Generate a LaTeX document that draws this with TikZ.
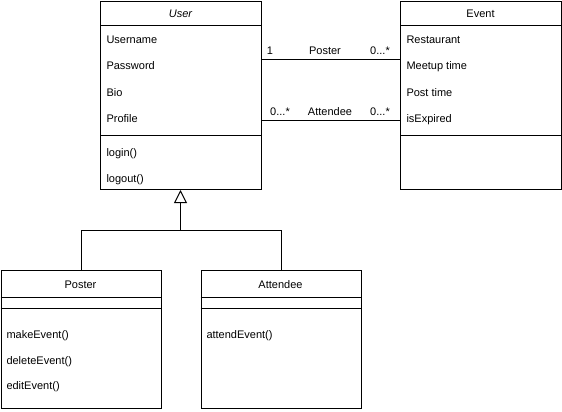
\documentclass[tikz,border=0pt]{standalone}
\usepackage{fontspec}
\setmainfont{Liberation Sans}
\usetikzlibrary{arrows.meta}
\begin{document}
\begin{tikzpicture}[x=1pt,y=-1pt,line width=1pt,
  font=\fontsize{11}{13}\selectfont,
  every node/.append style={text height=8pt,text depth=0pt},
  classbox/.style={draw,rectangle,minimum width=161pt,anchor=north west,inner sep=0pt,text height=,text depth=},
  member/.style={anchor=west,inner sep=0pt},
  mult/.style={inner sep=0pt}]
\useasboundingbox (0,0) rectangle (562,412);

% User class
\node[classbox,minimum height=188pt] (user) at (100,1) {};
\node[font=\fontsize{11}{13}\selectfont\itshape,inner sep=0pt] (userT) at (180.5,14) {User};
\draw (100,26) -- (261,26);
\draw (100,135) -- (261,135);
\node[member] (u1) at (106,40) {Username};
\node[member] (u2) at (106,66) {Password};
\node[member] (u3) at (106,92) {Bio};
\node[member] (u4) at (106,118) {Profile};
\node[member] (u5) at (106,152) {login()};
\node[member] (u6) at (106,178) {logout()};

% Event class
\node[classbox,minimum height=188pt] (event) at (400,1) {};
\node[inner sep=0pt] (eventT) at (480.5,14) {Event};
\draw (400,26) -- (561,26);
\draw (400,135) -- (561,135);
\node[member] (e1) at (406,40) {Restaurant};
\node[member] (e2) at (406,66) {Meetup time};
\node[member] (e3) at (406,92) {Post time};
\node[member] (e4) at (406,118) {isExpired};

% Poster class
\node[classbox,minimum width=160pt,minimum height=138pt] (poster) at (0.5,270) {};
\node[inner sep=0pt] (posterT) at (80.5,284) {Poster};
\draw (0.5,297) -- (160.5,297);
\draw (0.5,308) -- (160.5,308);
\node[member] (p1) at (6,334) {makeEvent()};
\node[member] (p2) at (6,360) {deleteEvent()};
\node[member] (p3) at (6,385) {editEvent()};

% Attendee class
\node[classbox,minimum width=160pt,minimum height=138pt] (attendee) at (200.5,270) {};
\node[inner sep=0pt] (attendeeT) at (280.5,284) {Attendee};
\draw (200.5,297) -- (360.5,297);
\draw (200.5,308) -- (360.5,308);
\node[member] (a1) at (206,334) {attendEvent()};

% associations
\coordinate (rowA) at (0,60);
\coordinate (rowB) at (0,120);
\draw (user.east |- rowA) -- (event.west |- rowA);
\draw (user.east |- rowB) -- (event.west |- rowB);
\node[mult] (m1) at (270,51) {1};
\node[mult] (m2) at (325,51) {Poster};
\node[mult] (m3) at (380,51) {0...*};
\node[mult] (m4) at (280,111) {0...*};
\node[mult] (m5) at (330,111) {Attendee};
\node[mult] (m6) at (380,111) {0...*};

% generalization
\coordinate (tee) at (180.5,230);
\draw[-{Triangle[open,length=13pt,width=13pt,line width=1pt]}] (tee) -- (user.south -| tee);
\draw (poster.north) |- (tee);
\draw (attendee.north) |- (tee);
\end{tikzpicture}
\end{document}
